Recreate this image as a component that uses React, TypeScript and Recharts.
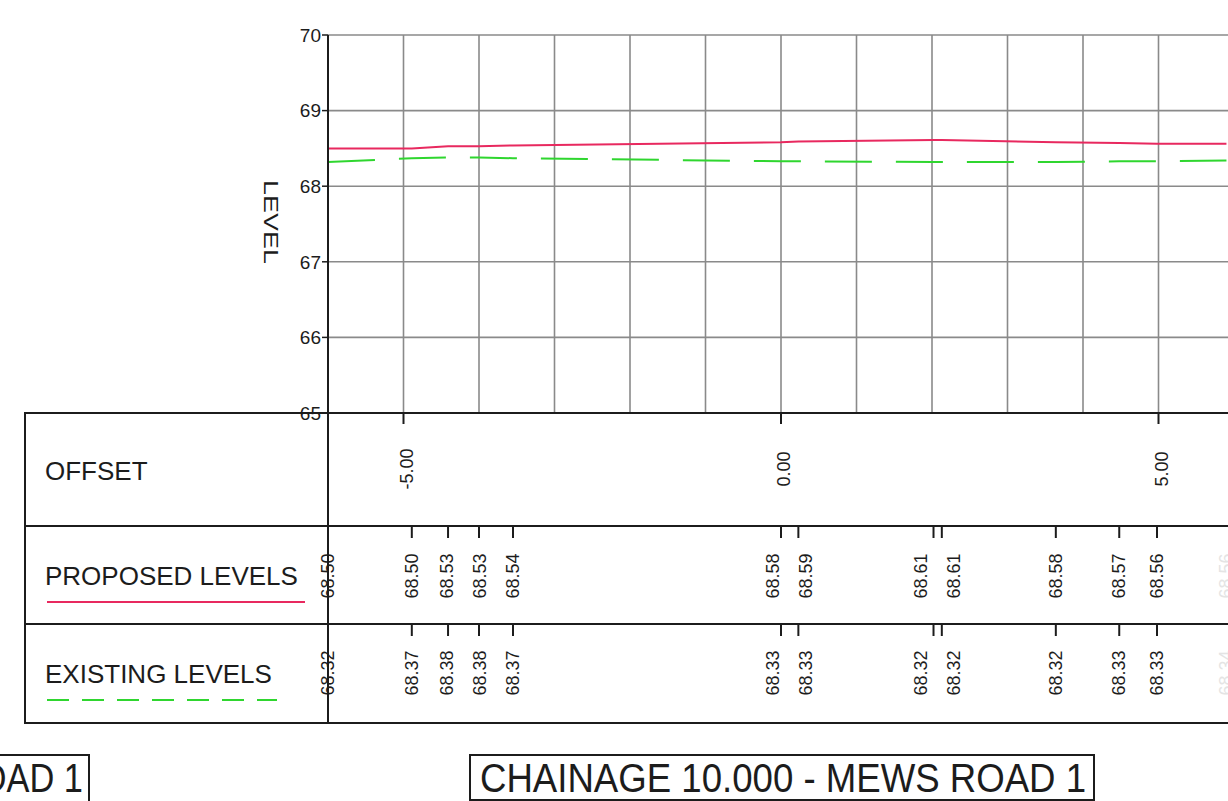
import { LineChart, Line, XAxis, YAxis, CartesianGrid } from 'recharts'

const FONT = "'Liberation Sans', Arial, sans-serif"
const INK = '#1c1c1c'

// section data
const offsets = [-6.0, -4.89, -4.41, -4.0, -3.55, 0.0, 0.23, 2.02, 2.13, 3.64, 4.48, 4.98, 5.9]
const proposedLevels = [68.5, 68.5, 68.53, 68.53, 68.54, 68.58, 68.59, 68.61, 68.61, 68.58, 68.57, 68.56, 68.56]
const existingLevels = [68.32, 68.37, 68.38, 68.38, 68.37, 68.33, 68.33, 68.32, 68.32, 68.32, 68.33, 68.33, 68.34]
const offsetLabels = [-5, 0, 5]
const gridOffsets = [-6, -5, -4, -3, -2, -1, 0, 1, 2, 3, 4, 5, 6]
const levelTicks = [65, 66, 67, 68, 69, 70]
const fadedFrom = 12 // last point is greyed out at the sheet edge

const PX_PER_UNIT = 906 / 12
const MIN_LABEL_GAP = 33

const chartData = offsets.map((o, i) => ({
  offset: o,
  proposed: proposedLevels[i],
  existing: existingLevels[i],
}))

// push labels of close-together points apart, like the CAD annotation does
function labelShift(i: number) {
  const gap = (a: number, b: number) => (offsets[b] - offsets[a]) * PX_PER_UNIT
  let s = 0
  if (i > 0 && gap(i - 1, i) < MIN_LABEL_GAP) s += (MIN_LABEL_GAP - gap(i - 1, i)) / 2
  if (i < offsets.length - 1 && gap(i, i + 1) < MIN_LABEL_GAP) s -= (MIN_LABEL_GAP - gap(i, i + 1)) / 2
  return s
}

function OffsetTick({ x, y, payload }: any) {
  const v = payload.value
  if (!offsetLabels.includes(v)) return <g />
  const cx = x + 3
  const cy = y + 56
  return (
    <g>
      <line x1={x} y1={y} x2={x} y2={y + 11} stroke={INK} strokeWidth={2} />
      <text
        x={cx}
        y={cy}
        transform={`rotate(-90 ${cx} ${cy})`}
        textAnchor="middle"
        dominantBaseline="central"
        fontSize={18}
        fontFamily={FONT}
        fill={INK}
      >
        {v.toFixed(2)}
      </text>
    </g>
  )
}

function makeLevelTick(values: number[], labelDy: number) {
  return function LevelTick({ x, y, payload }: any) {
    const i = offsets.indexOf(payload.value)
    if (i < 0) return <g />
    const faded = i >= fadedFrom
    const cx = x + labelShift(i)
    const cy = y + labelDy
    return (
      <g>
        {!faded && <line x1={x} y1={y} x2={x} y2={y + 12} stroke={INK} strokeWidth={2} />}
        <text
          x={cx}
          y={cy}
          transform={`rotate(-90 ${cx} ${cy})`}
          textAnchor="middle"
          dominantBaseline="central"
          fontSize={18}
          fontFamily={FONT}
          fill={faded ? '#e4e4e4' : INK}
        >
          {values[i].toFixed(2)}
        </text>
      </g>
    )
  }
}

const ProposedTick = makeLevelTick(proposedLevels, 50)
const ExistingTick = makeLevelTick(existingLevels, 49)

function LevelLabel() {
  return (
    <text
      transform="translate(271 222) rotate(90) scale(1.35 1)"
      textAnchor="middle"
      dominantBaseline="central"
      fontSize={20}
      fontFamily={FONT}
      fill={INK}
    >
      LEVEL
    </text>
  )
}

function SheetFrame() {
  const rows = [413, 526, 624, 723]
  return (
    <svg
      width={1228}
      height={801}
      style={{ position: 'absolute', left: 0, top: 0, pointerEvents: 'none' }}
    >
      {rows.map((y) => (
        <line key={y} x1={24} y1={y} x2={328} y2={y} stroke={INK} strokeWidth={2} />
      ))}
      <line x1={25} y1={412} x2={25} y2={724} stroke={INK} strokeWidth={2} />
      <line x1={328} y1={412} x2={328} y2={724} stroke={INK} strokeWidth={2} />

      <g fontFamily={FONT} fontSize={26} fill={INK}>
        <text x={45} y={480}>OFFSET</text>
        <text x={45} y={585}>PROPOSED LEVELS</text>
        <text x={45} y={683}>EXISTING LEVELS</text>
      </g>
      <line x1={47} y1={602} x2={305} y2={602} stroke="#e8295f" strokeWidth={2} />
      <line x1={47} y1={700} x2={277} y2={700} stroke="#2fd62f" strokeWidth={2} strokeDasharray="22 13" />

      <rect x={-10} y={755} width={99} height={60} fill="none" stroke={INK} strokeWidth={2} />
      <text transform="translate(83 792) scale(0.86 1)" textAnchor="end" fontSize={40} fontFamily={FONT} fill={INK}>
        ROAD 1
      </text>
      <rect x={470} y={755} width={624} height={45} fill="none" stroke={INK} strokeWidth={2} />
      <text
        x={480}
        y={792}
        textLength={606}
        lengthAdjust="spacingAndGlyphs"
        fontSize={40}
        fontFamily={FONT}
        fill={INK}
      >
        CHAINAGE 10.000 - MEWS ROAD 1
      </text>
    </svg>
  )
}

export default function App() {
  return (
    <div
      style={{
        position: 'fixed',
        left: 0,
        top: 0,
        width: 1228,
        height: 801,
        overflow: 'hidden',
        background: '#fff',
      }}
    >
      <LineChart
        width={1300}
        height={801}
        data={chartData}
        margin={{ top: 35, right: 66, left: 228, bottom: 77 }}
      >
        <CartesianGrid stroke="#8a8a8a" strokeWidth={1.6} />
        <XAxis
          xAxisId={0}
          dataKey="offset"
          type="number"
          domain={[-6, 6]}
          allowDataOverflow
          ticks={gridOffsets}
          interval={0}
          height={113}
          tickSize={0}
          tickMargin={0}
          tickLine={false}
          axisLine={{ stroke: INK, strokeWidth: 2 }}
          tick={OffsetTick}
        />
        <XAxis
          xAxisId="r1"
          dataKey="offset"
          type="number"
          domain={[-6, 6]}
          allowDataOverflow
          ticks={offsets}
          interval={0}
          height={98}
          tickSize={0}
          tickMargin={0}
          tickLine={false}
          axisLine={{ stroke: INK, strokeWidth: 2 }}
          tick={ProposedTick}
        />
        <XAxis
          xAxisId="r2"
          dataKey="offset"
          type="number"
          domain={[-6, 6]}
          allowDataOverflow
          ticks={offsets}
          interval={0}
          height={99}
          tickSize={0}
          tickMargin={0}
          tickLine={false}
          axisLine={{ stroke: INK, strokeWidth: 2 }}
          tick={ExistingTick}
        />
        <XAxis
          xAxisId="r3"
          dataKey="offset"
          type="number"
          domain={[-6, 6]}
          allowDataOverflow
          height={1}
          tick={false}
          tickLine={false}
          axisLine={{ stroke: INK, strokeWidth: 2 }}
        />
        <YAxis
          type="number"
          domain={[65, 70]}
          allowDataOverflow
          ticks={levelTicks}
          interval={0}
          width={100}
          tickSize={6}
          tickMargin={1}
          tick={{ fontSize: 19, fill: INK, fontFamily: FONT }}
          tickLine={{ stroke: INK, strokeWidth: 1.5 }}
          axisLine={{ stroke: INK, strokeWidth: 2 }}
          label={<LevelLabel />}
        />
        <Line
          dataKey="proposed"
          type="linear"
          stroke="#e8295f"
          strokeWidth={2}
          dot={false}
          activeDot={false}
          isAnimationActive={false}
        />
        <Line
          dataKey="existing"
          type="linear"
          stroke="#2fd62f"
          strokeWidth={2}
          strokeDasharray="47 24"
          dot={false}
          activeDot={false}
          isAnimationActive={false}
        />
      </LineChart>
      <SheetFrame />
    </div>
  )
}
